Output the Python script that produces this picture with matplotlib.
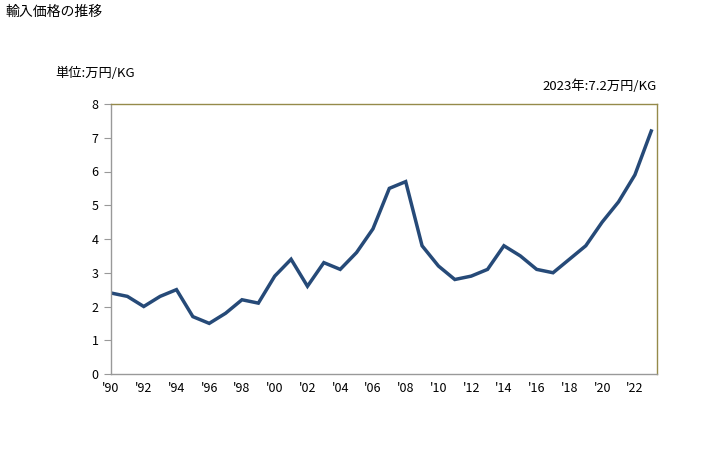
import matplotlib
matplotlib.use('Agg')
import matplotlib.pyplot as plt

plt.rcParams['font.family'] = ['Noto Sans CJK JP', 'DejaVu Sans']

# import price per year (10,000 yen / KG)
years = list(range(1990, 2024))
prices = [2.4, 2.3, 2.0, 2.3, 2.5, 1.7, 1.5, 1.8, 2.2, 2.1,
          2.9, 3.4, 2.6, 3.3, 3.1, 3.6, 4.3, 5.5, 5.7, 3.8,
          3.2, 2.8, 2.9, 3.1, 3.8, 3.5, 3.1, 3.0, 3.4, 3.8,
          4.5, 5.1, 5.9, 7.2]
xtick_years = list(range(1990, 2023, 2))
xtick_labels = ["'%02d" % (y % 100) for y in xtick_years]
yticks = list(range(0, 9))

fig = plt.figure(figsize=(7.28, 4.5), dpi=100)
ax = fig.add_axes([111 / 728, 1 - 374 / 450, (657 - 111) / 728, (374 - 104) / 450])

ax.plot(years, prices, color='#264a78', linewidth=2.5, solid_joinstyle='miter')

ax.set_xlim(1990, 2023.35)
ax.set_ylim(0, 8)
ax.set_yticks(yticks)
ax.set_xticks(xtick_years)
ax.set_xticklabels(xtick_labels)

for side in ['top', 'right']:
    ax.spines[side].set_color('#958a4a')
for side in ['left', 'bottom']:
    ax.spines[side].set_color('#999999')
for s in ax.spines.values():
    s.set_linewidth(1)

ax.tick_params(axis='y', length=5, color='#999999', labelsize=9, pad=4)
ax.tick_params(axis='x', length=0, labelsize=9, pad=6)

fig.text(5 / 728, 1 - 12 / 450, '輸入価格の推移', fontsize=10, va='center', ha='left')
fig.text(55 / 728, 1 - 73 / 450, '単位:万円/KG', fontsize=9.5, va='center', ha='left')
fig.text(657 / 728, 1 - 86 / 450, '2023年:7.2万円/KG', fontsize=9.5, va='center', ha='right')

fig.savefig('out.png', dpi=100)
